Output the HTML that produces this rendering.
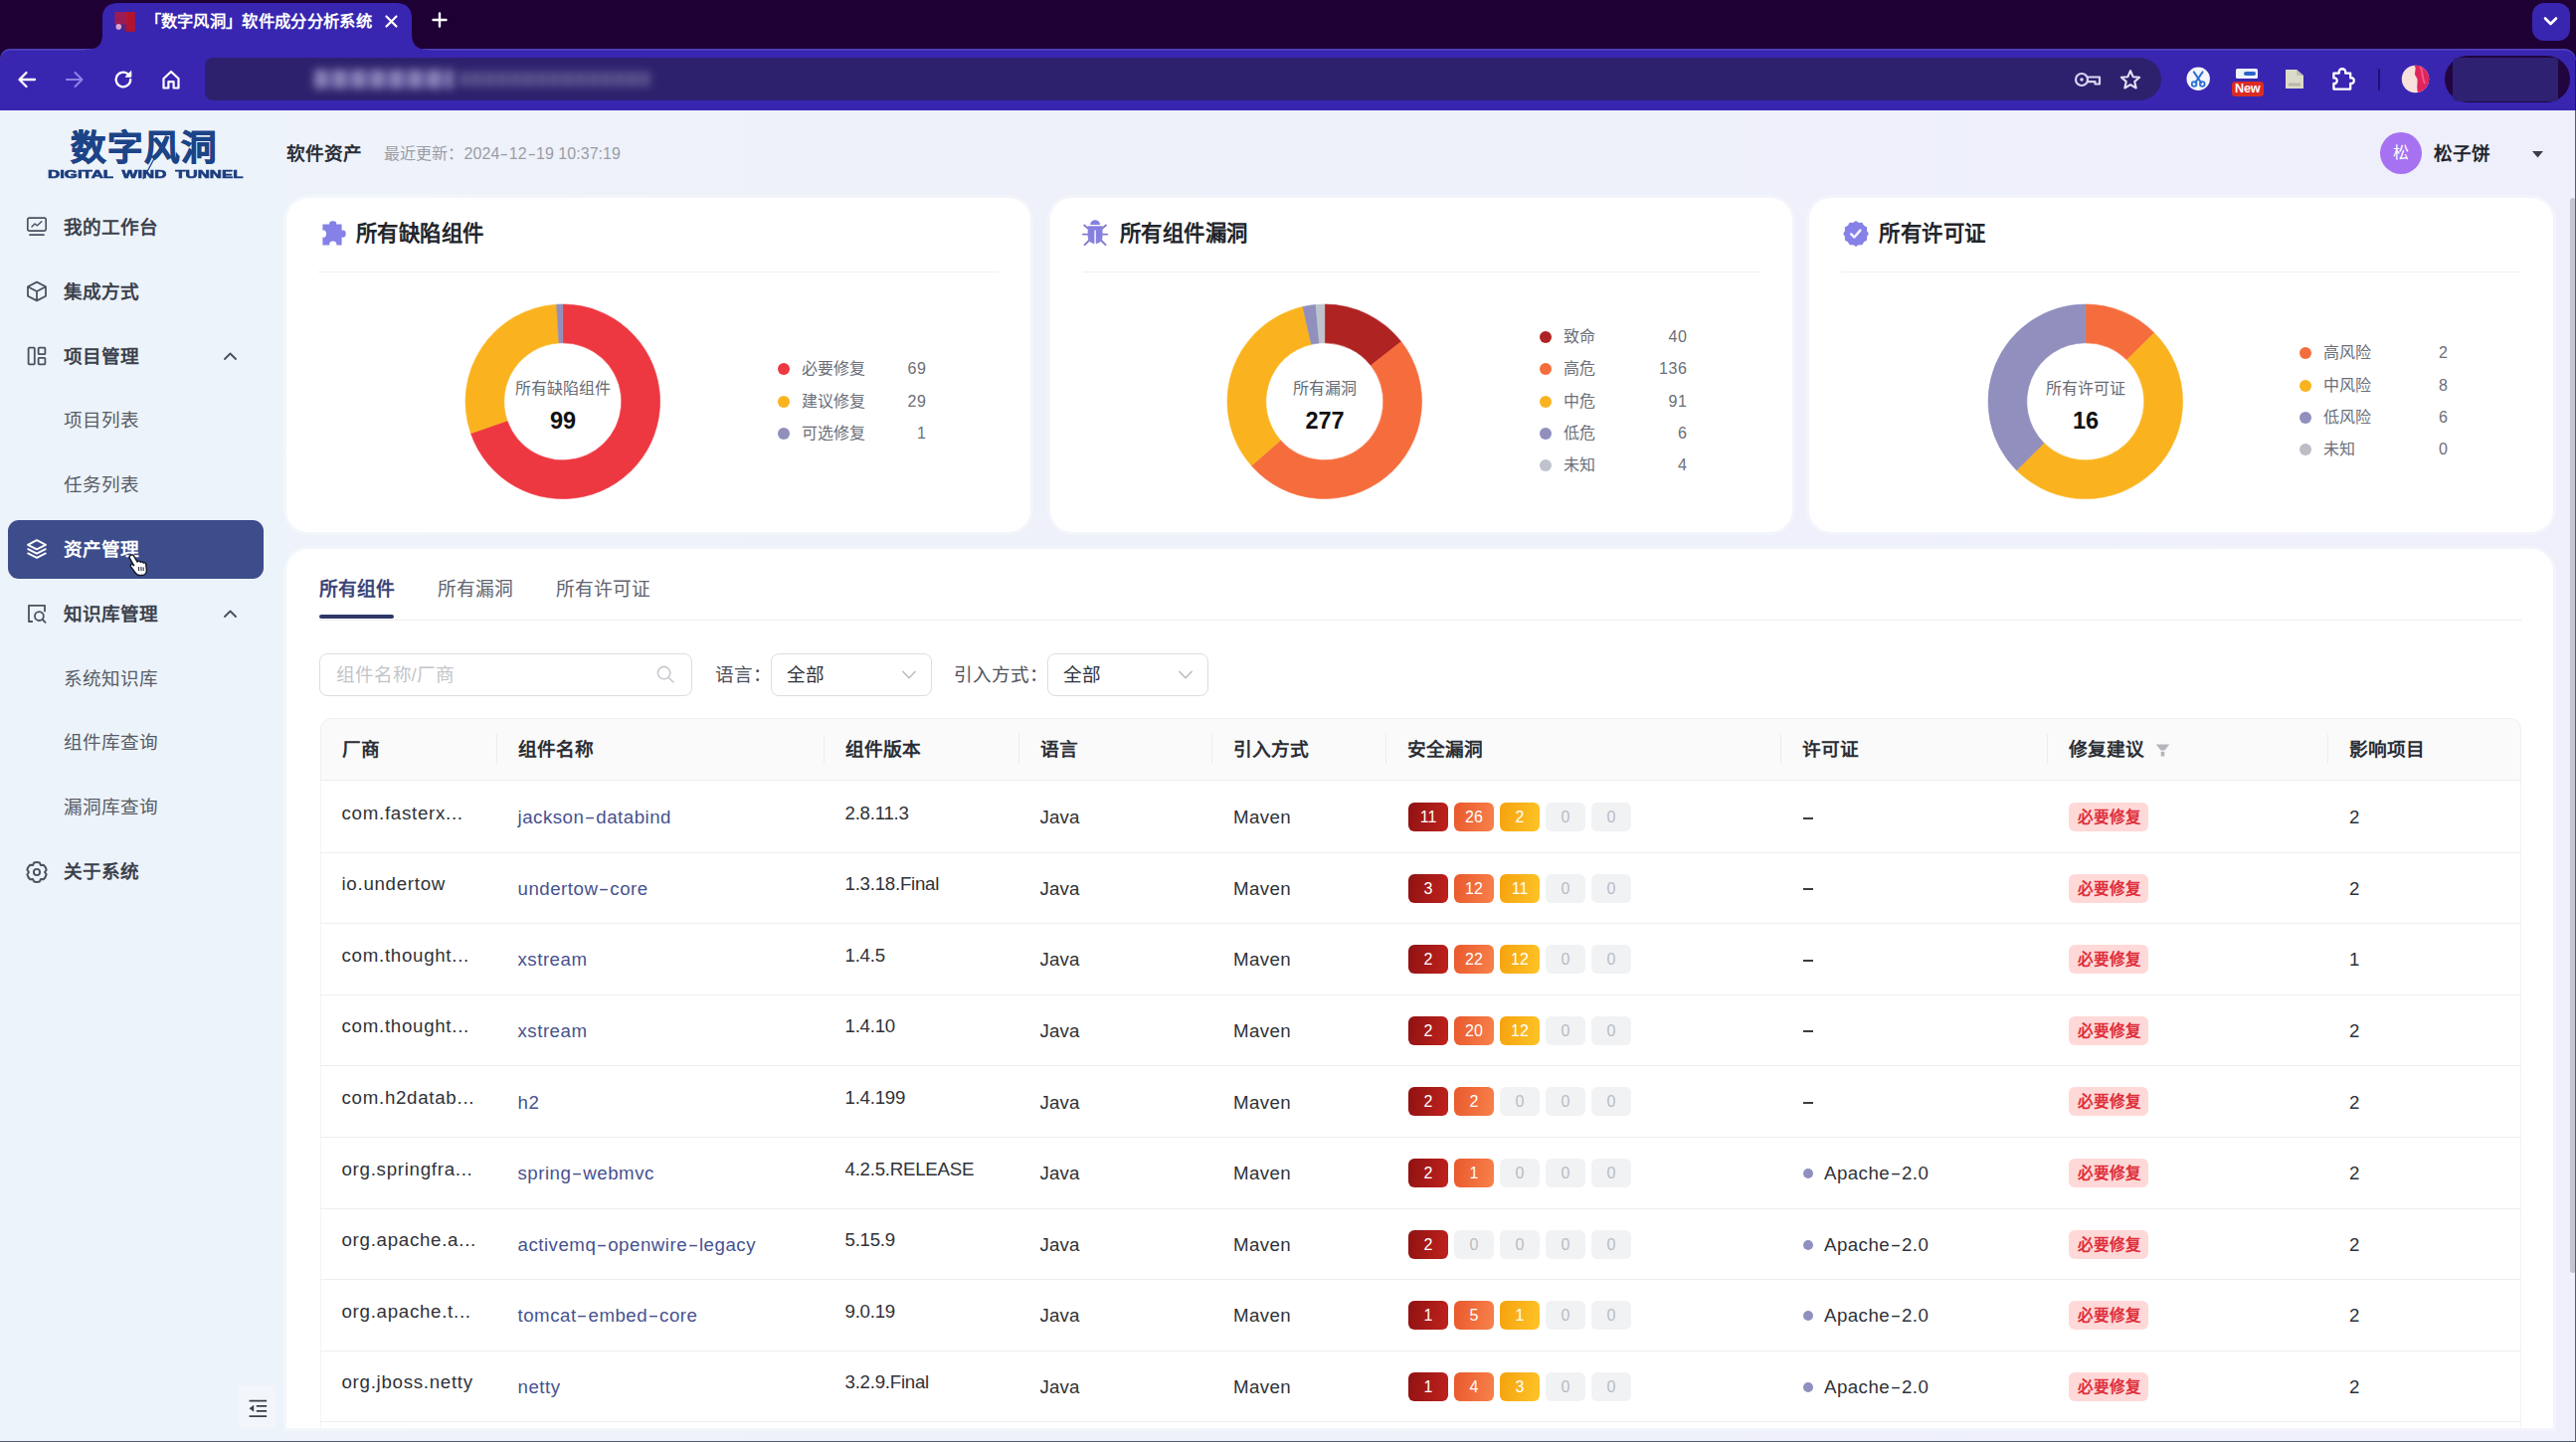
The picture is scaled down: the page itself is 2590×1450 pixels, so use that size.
<!DOCTYPE html>
<html lang="zh-CN">
<head>
<meta charset="utf-8">
<title>「数字风洞」软件成分分析系统</title>
<style>
*{box-sizing:border-box;}
html,body{margin:0;padding:0;}
body{width:2590px;height:1450px;overflow:hidden;position:relative;background:#eef1fa;
 font-family:"Liberation Sans",sans-serif;color:#333;-webkit-font-smoothing:antialiased;}
.a{position:absolute;}
svg{position:absolute;overflow:visible;}
.card{position:absolute;background:#fff;border-radius:22px;box-shadow:0 0 0 3px rgba(255,255,255,.32);}
.hr{position:absolute;height:1px;background:#efeff2;}
.bdg{position:absolute;width:40px;height:29px;border-radius:6px;text-align:center;line-height:29px;font-size:16px;color:#fff;}
.b1{background:linear-gradient(100deg,#8f1212,#c0221d);}
.b2{background:linear-gradient(100deg,#e9582c,#f8824c);}
.b3{background:linear-gradient(100deg,#f5a20d,#fec428);}
.b0{background:#f1f2f4;color:#b9bcc4;}
.tag{position:absolute;width:80px;height:29px;border-radius:6px;background:#ffd9d8;color:#de2f3b;font-weight:700;font-size:15.5px;line-height:29px;text-align:center;white-space:nowrap;overflow:hidden;}
.rowl{position:absolute;left:322px;width:2213px;height:1px;background:#eeeef0;}
</style>
</head>
<body>

<div class="a" style="left:0;top:111px;width:2590px;height:1339px;background:linear-gradient(90deg,#eef3fa 0%,#eef1fa 30%,#eeeffb 100%);"></div>
<div class="a" style="left:0;top:111px;width:285px;height:1339px;background:#edf3fa;"></div>
<div class="a" style="left:0;top:0;width:2590px;height:64px;background:#1f0035;"></div>
<div class="a" style="left:0;top:48.6px;width:2590px;height:62.4px;background:#3826b1;border-radius:10px 12px 0 0;box-shadow:inset 0 1.6px 0 rgba(140,120,215,.33);"></div>
<svg style="left:80px;top:0" width="370" height="56" viewBox="80 0 370 56">
<path d="M86 50 C 98 50 103 45 103 34 L103 18 C103 8 109 3 119 3 L398 3 C408 3 414 8 414 18 L414 34 C414 45 419 50 431 50 L431 56 L86 56 Z" fill="#3826b1"/>
</svg>
<svg style="left:114px;top:11px;filter:blur(.7px)" width="23" height="22" viewBox="0 0 23 22">
<rect x="1.4" y="1" width="13" height="12.6" fill="#9b1c54"/>
<rect x="13" y="1" width="8.8" height="19.8" fill="#b2142f"/>
<path d="M8 14 L13 14 L13 20.6 L10 20.6 Z" fill="#6a2370" opacity=".8"/>
<circle cx="5.3" cy="15.9" r="2.8" fill="#dba4cf"/>
</svg>
<div style="position:absolute;left:145.5px;top:10.0px;height:23px;line-height:23px;font-size:16.3px;color:#fff;font-weight:700;white-space:nowrap;width:228.20px;text-align:justify;text-align-last:justify;text-justify:inter-character;">「数字风洞」软件成分分析系统</div>
<svg style="left:387px;top:15px" width="13" height="13" viewBox="0 0 13 13"><path d="M1.5 1.5 L11.5 11.5 M11.5 1.5 L1.5 11.5" stroke="#fff" stroke-width="2.2" stroke-linecap="round"/></svg>
<svg style="left:434px;top:12px" width="16" height="16" viewBox="0 0 16 16"><path d="M8 1.5 V14.5 M1.5 8 H14.5" stroke="#fff" stroke-width="2.4" stroke-linecap="round"/></svg>
<div class="a" style="left:2546px;top:3px;width:38px;height:38px;border-radius:12px;background:#3826b1;"></div>
<svg style="left:2556px;top:15px" width="17" height="12" viewBox="0 0 17 12"><path d="M3 3.5 L8.5 9 L14 3.5" stroke="#fff" stroke-width="2.6" fill="none" stroke-linecap="round" stroke-linejoin="round"/></svg>
<svg style="left:15px;top:68px" width="24" height="24" viewBox="0 0 24 24"><path d="M20 12 H5 M11.5 5 L4.5 12 L11.5 19" stroke="#fff" stroke-width="2.3" fill="none" stroke-linecap="round" stroke-linejoin="round"/></svg>
<svg style="left:63px;top:68px" width="24" height="24" viewBox="0 0 24 24"><path d="M4 12 H19 M12.5 5 L19.5 12 L12.5 19" stroke="#8d82e6" stroke-width="2.1" fill="none" stroke-linecap="round" stroke-linejoin="round"/></svg>
<svg style="left:112px;top:68px" width="24" height="24" viewBox="0 0 24 24"><path d="M19.2 12 A7.3 7.3 0 1 1 16.6 6.4" stroke="#fff" stroke-width="2.3" fill="none" stroke-linecap="round"/><path d="M19.8 3.6 V9.2 H14.2 Z" fill="#fff" stroke="#fff" stroke-width="1" stroke-linejoin="round"/></svg>
<svg style="left:160px;top:68px" width="24" height="24" viewBox="0 0 24 24"><path d="M4.5 11 L12 4 L19.5 11 V20.5 H14.6 V14.2 H9.4 V20.5 H4.5 Z" stroke="#fff" stroke-width="2.2" fill="none" stroke-linejoin="round" stroke-linecap="round"/></svg>
<div class="a" style="left:206px;top:58px;width:1967px;height:43px;border-radius:8px 21.5px 21.5px 8px;background:#2d216d;"></div>
<div class="a" style="left:316px;top:70px;width:140px;height:19px;filter:blur(4px);background:repeating-linear-gradient(90deg,#a29dcc 0 13px,#5a5296 13px 19px);opacity:.8;"></div>
<div class="a" style="left:462px;top:72px;width:192px;height:15px;filter:blur(4px);background:repeating-linear-gradient(90deg,#6a6398 0 9px,#48407f 9px 13px);opacity:.8;"></div>
<svg style="left:2085px;top:70px" width="28" height="20" viewBox="0 0 28 20"><circle cx="8" cy="10" r="6" stroke="#d9d5f3" stroke-width="2.2" fill="none"/><circle cx="8" cy="10" r="1.8" fill="#d9d5f3"/><path d="M14 7.5 H26 V14.5 H21.5 V12.2 H14" stroke="#d9d5f3" stroke-width="2.2" fill="none" stroke-linejoin="round"/></svg>
<svg style="left:2130px;top:68px" width="24" height="24" viewBox="0 0 24 24"><path d="M12 3.2 L14.6 9.2 L21.1 9.8 L16.2 14.1 L17.7 20.5 L12 17.1 L6.3 20.5 L7.8 14.1 L2.9 9.8 L9.4 9.2 Z" stroke="#e4e1f7" stroke-width="2.1" fill="none" stroke-linejoin="round"/></svg>
<svg style="left:2197.5px;top:67.2px" width="24.4" height="24.4" viewBox="0 0 25 25"><circle cx="12.5" cy="12.5" r="12" fill="#f4f6fb"/><path d="M8 5.5 L15.5 16.5 M17 5.5 L9.5 16.5" stroke="#2d6fd6" stroke-width="2" stroke-linecap="round"/><circle cx="8.3" cy="18" r="2.4" stroke="#2d6fd6" stroke-width="1.8" fill="none"/><circle cx="16.7" cy="18" r="2.4" stroke="#2d6fd6" stroke-width="1.8" fill="none"/></svg>
<div class="a" style="left:2248px;top:68.5px;width:21.5px;height:10.5px;border-radius:1.5px;background:#eef3fb;"></div>
<div class="a" style="left:2256px;top:71.5px;width:12px;height:4px;border-radius:2px;background:#2b63c9;"></div>
<div class="a" style="left:2243.5px;top:82.3px;width:32.5px;height:14.8px;border-radius:3.5px;background:#dc2c22;color:#fff;font-weight:700;font-size:12.6px;line-height:14.8px;text-align:center;letter-spacing:-.2px;">New</div>
<svg style="left:2297px;top:69px" width="20" height="21" viewBox="0 0 20 21"><path d="M1 1 H12 L19 7 V20 H1 Z" fill="#dcdac8"/><path d="M12 1 V7 H19" fill="#c3c1b0"/><rect x="4" y="14.5" width="12" height="3" fill="#b9b7a8"/></svg>
<svg style="left:2342px;top:65.8px" width="27" height="27" viewBox="0 0 27 27"><path d="M4.4 7.6 H9.8 C8.6 1.8 17.4 1.8 16.2 7.6 H21.2 V12.4 C26 11.2 26 19 21.2 17.8 V23.6 H4.4 V17.9 C8.8 19 8.8 11.4 4.4 12.5 Z" stroke="#fff" stroke-width="2.3" fill="none" stroke-linejoin="round"/></svg>
<div class="a" style="left:2391px;top:69px;width:2px;height:22px;background:#1d1273;border-radius:1px;"></div>
<svg style="left:2414.3px;top:64.6px" width="29" height="29" viewBox="0 0 30 30"><defs><clipPath id="av"><circle cx="15" cy="15" r="14.2"/></clipPath></defs><g clip-path="url(#av)"><rect width="30" height="30" fill="#f8e0dc"/><path d="M13 0 C18 4 12 9 16 13 C19 17 15 22 18 30 H30 V0 Z" fill="#e0245c"/><path d="M20 2 C24 8 21 14 25 20" stroke="#f05a86" stroke-width="2" fill="none"/></g></svg>
<div class="a" style="left:2458px;top:56px;width:126px;height:47px;border-radius:23.5px;background:#21053f;"></div>
<div class="a" style="left:2466px;top:57.5px;width:106px;height:44px;border-radius:5px 4px 4px 5px;background:#2e2172;"></div>
<div class="a" style="left:71px;top:125.7px;height:46px;line-height:46px;font-size:35.5px;font-weight:900;color:#1c4487;white-space:nowrap;letter-spacing:1.1px;-webkit-text-stroke:.9px #1c4487;width:146.40px;text-align:justify;text-align-last:justify;text-justify:inter-character;">数字风洞</div>
<div class="a" style="left:48px;top:168px;height:14px;line-height:14px;font-size:10.8px;font-weight:700;color:#1b3c7e;white-space:nowrap;transform-origin:0 50%;transform:scaleX(1.56);word-spacing:2.6px;-webkit-text-stroke:.6px #1b3c7e;">DIGITAL WIND TUNNEL</div>
<svg style="left:140px;top:138px" width="30" height="44" viewBox="0 0 30 44"><path d="M26 1 L4 42" stroke="#1c4487" stroke-width="1.3"/></svg>
<div class="a" style="left:8px;top:523px;width:257px;height:59px;border-radius:11px;background:#3d4d8c;"></div>
<svg style="left:26px;top:217.0px" width="22" height="22" viewBox="0 0 22 22"><rect x="1.8" y="2.2" width="18.4" height="13" rx="1.6" stroke="#4a5160" stroke-width="1.7" fill="none"/><path d="M6 11 L9 8 L11.5 9.8 L15.8 5.8" stroke="#4a5160" stroke-width="1.5" fill="none" stroke-linejoin="round" stroke-linecap="round"/><path d="M4 19.2 H18" stroke="#4a5160" stroke-width="1.7" stroke-linecap="round"/></svg>
<div style="position:absolute;left:64px;top:215.9px;height:26px;line-height:26px;font-size:18.6px;color:#3b414c;font-weight:700;white-space:nowrap;width:93.00px;text-align:justify;text-align-last:justify;text-justify:inter-character;">我的工作台</div>
<svg style="left:26px;top:281.8px" width="22" height="22" viewBox="0 0 22 22"><path d="M11 1.6 L20 6.3 V15.7 L11 20.4 L2 15.7 V6.3 Z M2.4 6.5 L11 11 L19.6 6.5 M11 11 V20" stroke="#4a5160" stroke-width="1.8" fill="none" stroke-linejoin="round"/></svg>
<div style="position:absolute;left:64px;top:280.7px;height:26px;line-height:26px;font-size:18.6px;color:#3b414c;font-weight:700;white-space:nowrap;width:74.40px;text-align:justify;text-align-last:justify;text-justify:inter-character;">集成方式</div>
<svg style="left:26px;top:346.6px" width="22" height="22" viewBox="0 0 22 22"><rect x="2.6" y="2.6" width="6.2" height="16.8" rx=".8" stroke="#4a5160" stroke-width="1.8" fill="none"/><rect x="12.6" y="2.6" width="6.8" height="6.6" rx=".8" stroke="#4a5160" stroke-width="1.8" fill="none"/><rect x="12.6" y="12.8" width="6.8" height="6.6" rx=".8" stroke="#4a5160" stroke-width="1.8" fill="none"/></svg>
<div style="position:absolute;left:64px;top:345.5px;height:26px;line-height:26px;font-size:18.6px;color:#3b414c;font-weight:700;white-space:nowrap;width:74.40px;text-align:justify;text-align-last:justify;text-justify:inter-character;">项目管理</div>
<svg style="left:224px;top:352.6px" width="15" height="10" viewBox="0 0 15 10"><path d="M2 8 L7.5 2.5 L13 8" stroke="#4a5160" stroke-width="1.9" fill="none" stroke-linecap="round" stroke-linejoin="round"/></svg>
<div style="position:absolute;left:64px;top:410.3px;height:26px;line-height:26px;font-size:18.6px;color:#575c66;font-weight:400;white-space:nowrap;width:74.40px;text-align:justify;text-align-last:justify;text-justify:inter-character;">项目列表</div>
<div style="position:absolute;left:64px;top:475.1px;height:26px;line-height:26px;font-size:18.6px;color:#575c66;font-weight:400;white-space:nowrap;width:74.40px;text-align:justify;text-align-last:justify;text-justify:inter-character;">任务列表</div>
<svg style="left:26px;top:541.0px" width="22" height="22" viewBox="0 0 22 22"><path d="M11 2.2 L20 6.8 L11 11.4 L2 6.8 Z" stroke="#fff" stroke-width="1.9" fill="none" stroke-linejoin="round"/><path d="M2.2 11.2 L11 15.6 L19.8 11.2 M2.2 15.4 L11 19.8 L19.8 15.4" stroke="#fff" stroke-width="1.9" fill="none" stroke-linejoin="round" stroke-linecap="round"/></svg>
<div style="position:absolute;left:64px;top:539.9px;height:26px;line-height:26px;font-size:18.6px;color:#fff;font-weight:700;white-space:nowrap;width:74.40px;text-align:justify;text-align-last:justify;text-justify:inter-character;">资产管理</div>
<svg style="left:26px;top:605.8px" width="22" height="22" viewBox="0 0 22 22"><path d="M6.2 19 H3 V2.8 H19 V8.4" stroke="#4a5160" stroke-width="1.8" fill="none" stroke-linejoin="round" stroke-linecap="round"/><circle cx="13.4" cy="13.6" r="4.4" stroke="#4a5160" stroke-width="1.8" fill="none"/><path d="M16.8 17 L19.6 19.8" stroke="#4a5160" stroke-width="1.8" stroke-linecap="round"/></svg>
<div style="position:absolute;left:64px;top:604.7px;height:26px;line-height:26px;font-size:18.6px;color:#3b414c;font-weight:700;white-space:nowrap;width:93.00px;text-align:justify;text-align-last:justify;text-justify:inter-character;">知识库管理</div>
<svg style="left:224px;top:611.8px" width="15" height="10" viewBox="0 0 15 10"><path d="M2 8 L7.5 2.5 L13 8" stroke="#4a5160" stroke-width="1.9" fill="none" stroke-linecap="round" stroke-linejoin="round"/></svg>
<div style="position:absolute;left:64px;top:669.5px;height:26px;line-height:26px;font-size:18.6px;color:#575c66;font-weight:400;white-space:nowrap;width:93.00px;text-align:justify;text-align-last:justify;text-justify:inter-character;">系统知识库</div>
<div style="position:absolute;left:64px;top:734.3px;height:26px;line-height:26px;font-size:18.6px;color:#575c66;font-weight:400;white-space:nowrap;width:93.00px;text-align:justify;text-align-last:justify;text-justify:inter-character;">组件库查询</div>
<div style="position:absolute;left:64px;top:799.1px;height:26px;line-height:26px;font-size:18.6px;color:#575c66;font-weight:400;white-space:nowrap;width:93.00px;text-align:justify;text-align-last:justify;text-justify:inter-character;">漏洞库查询</div>
<svg style="left:26px;top:865.8px" width="22" height="22" viewBox="0 0 22 22"><path d="M8.11 1.53 A9.9 9.9 0 0 1 13.89 1.53 L15.00 4.07 L17.75 3.76 A9.9 9.9 0 0 1 20.65 8.77 L19.00 11.00 L20.65 13.23 A9.9 9.9 0 0 1 17.75 18.24 L15.00 17.93 L13.89 20.47 A9.9 9.9 0 0 1 8.11 20.47 L7.00 17.93 L4.25 18.24 A9.9 9.9 0 0 1 1.35 13.23 L3.00 11.00 L1.35 8.77 A9.9 9.9 0 0 1 4.25 3.76 L7.00 4.07 Z" stroke="#4a5160" stroke-width="2" fill="none" stroke-linejoin="round"/><circle cx="11" cy="11" r="3.1" stroke="#4a5160" stroke-width="1.9" fill="none"/></svg>
<div style="position:absolute;left:64px;top:863.9px;height:26px;line-height:26px;font-size:18.6px;color:#3b414c;font-weight:700;white-space:nowrap;width:74.40px;text-align:justify;text-align-last:justify;text-justify:inter-character;">关于系统</div>
<svg style="left:128px;top:556px" width="22" height="24" viewBox="0 0 22 24"><path d="M3.2 2.4 C4.6 1.4 6 2 6.8 3.4 L10 9 C10.6 7.8 12.6 7.8 13.2 9.2 C14 8.2 15.8 8.6 16.2 10 C17.2 9.4 18.6 10 18.8 11.4 L19.4 17 C19.6 20 17.6 22.4 14.6 22.6 L12.6 22.6 C10.6 22.6 9.2 21.8 8.2 20.2 L3.4 13.6 C2.6 12.2 4 10.8 5.4 11.6 L6.6 12.6 L2.4 5.4 C1.8 4.2 2.2 3 3.2 2.4 Z" fill="#fff" stroke="#151a2e" stroke-width="1.5" stroke-linejoin="round"/><path d="M11.6 14 V18 M14 14 V18 M16.2 14.4 V18" stroke="#151a2e" stroke-width="1"/></svg>
<div class="a" style="left:240px;top:1393px;width:37px;height:43px;border-radius:4px;background:#f2f6fb;"></div>
<svg style="left:248.5px;top:1406.4px" width="20.7" height="20.7" viewBox="0 0 20 20"><path d="M1.5 2.5 H18.5 M8.5 7.6 H18.5 M8.5 12.4 H18.5 M1.5 17.5 H18.5" stroke="#3a3f4a" stroke-width="1.8"/><path d="M6 6.6 V13.4 L1.6 10 Z" fill="#3a3f4a"/></svg>
<div style="position:absolute;left:288px;top:142.3px;height:26px;line-height:26px;font-size:18.6px;color:#2b2f36;font-weight:700;white-space:nowrap;width:74.40px;text-align:justify;text-align-last:justify;text-justify:inter-character;">软件资产</div>
<div style="position:absolute;left:386px;top:144.0px;height:22px;line-height:22px;font-size:16px;color:#9a9da5;font-weight:400;white-space:nowrap;"><span style="display:inline-block;width:80px;text-align:justify;text-align-last:justify;text-justify:inter-character;vertical-align:top;margin-right:.6px;">最近更新：</span><span style="letter-spacing:.04px;">2024<span style="display:inline-block;transform:scaleX(1.6);margin:0 2px;">-</span>12<span style="display:inline-block;transform:scaleX(1.6);margin:0 2px;">-</span>19 10:37:19</span></div>
<div class="a" style="left:2393px;top:133px;width:42px;height:42px;border-radius:21px;background:#a772f1;color:#fff;font-size:16px;line-height:42px;text-align:center;">松</div>
<div style="position:absolute;left:2447px;top:141.5px;height:26px;line-height:26px;font-size:18.6px;color:#22252b;font-weight:700;white-space:nowrap;width:55.80px;text-align:justify;text-align-last:justify;text-justify:inter-character;">松子饼</div>
<svg style="left:2545px;top:151px" width="13" height="8" viewBox="0 0 13 8"><path d="M1 1 H12 L6.5 7.4 Z" fill="#3a3d45"/></svg>
<div class="card" style="left:287.5px;top:198.5px;width:748px;height:336px;"></div>
<svg style="left:323px;top:221px" width="27" height="27" viewBox="0 0 27 27"><path d="M1.4 4.6 H8.4 C6.4 0.2 17 0.2 15 4.6 H20.6 V10.8 C26.2 8.6 26.2 19.6 20.6 17.4 V25.4 H15.2 C16.8 20.2 6.8 20.2 8.4 25.4 H1.4 V17.6 C6.4 19.4 6.4 9 1.4 10.8 Z" fill="#8681e6"/></svg>
<div style="position:absolute;left:358.0px;top:220.0px;height:30px;line-height:30px;font-size:21.4px;color:#22252b;font-weight:700;white-space:nowrap;width:128.40px;text-align:justify;text-align-last:justify;text-justify:inter-character;">所有缺陷组件</div>
<div class="hr" style="left:319.5px;top:272.5px;width:684px;"></div>
<svg style="left:466.2px;top:304.09999999999997px" width="199.6" height="199.6" viewBox="-99.8 -99.8 199.6 199.6"><path d="M0.00 -97.80 A97.8 97.8 0 1 1 -92.42 31.99 L-55.76 19.30 A59 59 0 1 0 0.00 -59.00 Z" fill="#ee3841" stroke="#ee3841" stroke-width=".6"/><path d="M-92.42 31.99 A97.8 97.8 0 0 1 -6.20 -97.60 L-3.74 -58.88 A59 59 0 0 0 -55.76 19.30 Z" fill="#fab31f" stroke="#fab31f" stroke-width=".6"/><path d="M-6.20 -97.60 A97.8 97.8 0 0 1 -0.00 -97.80 L-0.00 -59.00 A59 59 0 0 0 -3.74 -58.88 Z" fill="#908fbd" stroke="#908fbd" stroke-width=".6"/></svg>
<div class="a" style="left:486px;top:379.5px;width:160px;height:22px;line-height:22px;text-align:center;font-size:16px;color:#676b75;white-space:nowrap;"><span style="display:inline-block;width:96.00px;text-align:justify;text-align-last:justify;text-justify:inter-character;vertical-align:top;">所有缺陷组件</span></div>
<div class="a" style="left:486px;top:407.5px;width:160px;height:30px;line-height:30px;text-align:center;font-size:23.5px;font-weight:700;color:#111;white-space:nowrap;">99</div>
<div class="a" style="left:782px;top:365.3px;width:12px;height:12px;border-radius:6px;background:#ee3841;"></div>
<div style="position:absolute;left:805.5px;top:360.3px;height:22px;line-height:22px;font-size:16px;color:#6b6f78;font-weight:400;white-space:nowrap;width:64.00px;text-align:justify;text-align-last:justify;text-justify:inter-character;">必要修复</div>
<div style="position:absolute;right:1658.4px;top:360.3px;height:22px;line-height:22px;font-size:16px;color:#6b6f78;font-weight:400;white-space:nowrap;letter-spacing:.6px;">69</div>
<div class="a" style="left:782px;top:397.6px;width:12px;height:12px;border-radius:6px;background:#fab31f;"></div>
<div style="position:absolute;left:805.5px;top:392.6px;height:22px;line-height:22px;font-size:16px;color:#6b6f78;font-weight:400;white-space:nowrap;width:64.00px;text-align:justify;text-align-last:justify;text-justify:inter-character;">建议修复</div>
<div style="position:absolute;right:1658.4px;top:392.6px;height:22px;line-height:22px;font-size:16px;color:#6b6f78;font-weight:400;white-space:nowrap;letter-spacing:.6px;">29</div>
<div class="a" style="left:782px;top:429.8px;width:12px;height:12px;border-radius:6px;background:#908fbd;"></div>
<div style="position:absolute;left:805.5px;top:424.8px;height:22px;line-height:22px;font-size:16px;color:#6b6f78;font-weight:400;white-space:nowrap;width:64.00px;text-align:justify;text-align-last:justify;text-justify:inter-character;">可选修复</div>
<div style="position:absolute;right:1658.4px;top:424.8px;height:22px;line-height:22px;font-size:16px;color:#6b6f78;font-weight:400;white-space:nowrap;letter-spacing:.6px;">1</div>
<div class="card" style="left:1055.5px;top:198.5px;width:746px;height:336px;"></div>
<svg style="left:1088px;top:221px" width="27" height="27" viewBox="0 0 27 27"><g stroke="#827cc4" stroke-width="1.9" stroke-linecap="round" fill="none"><path d="M2.2 5.6 L7.4 9.8 M24 5.6 L18.8 9.8 M.9 14.6 H6 M20.2 14.6 H25.3 M6.8 21 L2.6 25.2 M19.4 21 L23.6 25.2"/></g><path d="M8.2 4.9 C8.2 -1.4 18 -1.4 18 4.9 Z" fill="#8681e0"/><path d="M5.7 6.2 H20.5 V17 C20.5 26.4 5.7 26.4 5.7 17 Z" fill="#8681e0"/><path d="M13.1 10.4 V24" stroke="#e9e6ff" stroke-width="1.7"/></svg>
<div style="position:absolute;left:1126.0px;top:220.0px;height:30px;line-height:30px;font-size:21.4px;color:#22252b;font-weight:700;white-space:nowrap;width:128.40px;text-align:justify;text-align-last:justify;text-justify:inter-character;">所有组件漏洞</div>
<div class="hr" style="left:1087.5px;top:272.5px;width:682px;"></div>
<svg style="left:1232.2px;top:304.09999999999997px" width="199.6" height="199.6" viewBox="-99.8 -99.8 199.6 199.6"><path d="M0.00 -97.80 A97.8 97.8 0 0 1 77.05 -60.23 L46.48 -36.34 A59 59 0 0 0 0.00 -59.00 Z" fill="#b02323" stroke="#b02323" stroke-width=".6"/><path d="M77.05 -60.23 A97.8 97.8 0 0 1 -73.51 64.50 L-44.35 38.91 A59 59 0 0 0 46.48 -36.34 Z" fill="#f66d3d" stroke="#f66d3d" stroke-width=".6"/><path d="M-73.51 64.50 A97.8 97.8 0 0 1 -21.99 -95.29 L-13.27 -57.49 A59 59 0 0 0 -44.35 38.91 Z" fill="#fab31f" stroke="#fab31f" stroke-width=".6"/><path d="M-21.99 -95.29 A97.8 97.8 0 0 1 -8.86 -97.40 L-5.35 -58.76 A59 59 0 0 0 -13.27 -57.49 Z" fill="#908fbd" stroke="#908fbd" stroke-width=".6"/><path d="M-8.86 -97.40 A97.8 97.8 0 0 1 -0.00 -97.80 L-0.00 -59.00 A59 59 0 0 0 -5.35 -58.76 Z" fill="#bfc3cd" stroke="#bfc3cd" stroke-width=".6"/></svg>
<div class="a" style="left:1252px;top:379.5px;width:160px;height:22px;line-height:22px;text-align:center;font-size:16px;color:#676b75;white-space:nowrap;"><span style="display:inline-block;width:64.00px;text-align:justify;text-align-last:justify;text-justify:inter-character;vertical-align:top;">所有漏洞</span></div>
<div class="a" style="left:1252px;top:407.5px;width:160px;height:30px;line-height:30px;text-align:center;font-size:23.5px;font-weight:700;color:#111;white-space:nowrap;">277</div>
<div class="a" style="left:1548px;top:333.1px;width:12px;height:12px;border-radius:6px;background:#b02323;"></div>
<div style="position:absolute;left:1571.5px;top:328.1px;height:22px;line-height:22px;font-size:16px;color:#6b6f78;font-weight:400;white-space:nowrap;width:32.00px;text-align:justify;text-align-last:justify;text-justify:inter-character;">致命</div>
<div style="position:absolute;right:893.4000000000001px;top:328.1px;height:22px;line-height:22px;font-size:16px;color:#6b6f78;font-weight:400;white-space:nowrap;letter-spacing:.6px;">40</div>
<div class="a" style="left:1548px;top:365.3px;width:12px;height:12px;border-radius:6px;background:#f66d3d;"></div>
<div style="position:absolute;left:1571.5px;top:360.3px;height:22px;line-height:22px;font-size:16px;color:#6b6f78;font-weight:400;white-space:nowrap;width:32.00px;text-align:justify;text-align-last:justify;text-justify:inter-character;">高危</div>
<div style="position:absolute;right:893.4000000000001px;top:360.3px;height:22px;line-height:22px;font-size:16px;color:#6b6f78;font-weight:400;white-space:nowrap;letter-spacing:.6px;">136</div>
<div class="a" style="left:1548px;top:397.6px;width:12px;height:12px;border-radius:6px;background:#fab31f;"></div>
<div style="position:absolute;left:1571.5px;top:392.6px;height:22px;line-height:22px;font-size:16px;color:#6b6f78;font-weight:400;white-space:nowrap;width:32.00px;text-align:justify;text-align-last:justify;text-justify:inter-character;">中危</div>
<div style="position:absolute;right:893.4000000000001px;top:392.6px;height:22px;line-height:22px;font-size:16px;color:#6b6f78;font-weight:400;white-space:nowrap;letter-spacing:.6px;">91</div>
<div class="a" style="left:1548px;top:429.8px;width:12px;height:12px;border-radius:6px;background:#908fbd;"></div>
<div style="position:absolute;left:1571.5px;top:424.8px;height:22px;line-height:22px;font-size:16px;color:#6b6f78;font-weight:400;white-space:nowrap;width:32.00px;text-align:justify;text-align-last:justify;text-justify:inter-character;">低危</div>
<div style="position:absolute;right:893.4000000000001px;top:424.8px;height:22px;line-height:22px;font-size:16px;color:#6b6f78;font-weight:400;white-space:nowrap;letter-spacing:.6px;">6</div>
<div class="a" style="left:1548px;top:462.1px;width:12px;height:12px;border-radius:6px;background:#bfc3cd;"></div>
<div style="position:absolute;left:1571.5px;top:457.1px;height:22px;line-height:22px;font-size:16px;color:#6b6f78;font-weight:400;white-space:nowrap;width:32.00px;text-align:justify;text-align-last:justify;text-justify:inter-character;">未知</div>
<div style="position:absolute;right:893.4000000000001px;top:457.1px;height:22px;line-height:22px;font-size:16px;color:#6b6f78;font-weight:400;white-space:nowrap;letter-spacing:.6px;">4</div>
<div class="card" style="left:1818.8px;top:198.5px;width:748.2px;height:336px;"></div>
<svg style="left:1852.7px;top:221.8px" width="26" height="26" viewBox="0 0 26 26"><path d="M13.00 0.80 L15.80 2.57 L19.10 2.43 L20.64 5.36 L23.57 6.90 L23.43 10.20 L25.20 13.00 L23.43 15.80 L23.57 19.10 L20.64 20.64 L19.10 23.57 L15.80 23.43 L13.00 25.20 L10.20 23.43 L6.90 23.57 L5.36 20.64 L2.43 19.10 L2.57 15.80 L0.80 13.00 L2.57 10.20 L2.43 6.90 L5.36 5.36 L6.90 2.43 L10.20 2.57 Z" fill="#8681e6" stroke="#8681e6" stroke-width="1.2" stroke-linejoin="round"/><path d="M8.2 13.4 L11.4 16.5 L17.4 9.6" stroke="#f3f1ff" stroke-width="2.5" fill="none" stroke-linecap="round" stroke-linejoin="round"/></svg>
<div style="position:absolute;left:1889.3px;top:220.0px;height:30px;line-height:30px;font-size:21.4px;color:#22252b;font-weight:700;white-space:nowrap;width:107.00px;text-align:justify;text-align-last:justify;text-justify:inter-character;">所有许可证</div>
<div class="hr" style="left:1850.8px;top:272.5px;width:684.2px;"></div>
<svg style="left:1997.2px;top:304.09999999999997px" width="199.6" height="199.6" viewBox="-99.8 -99.8 199.6 199.6"><path d="M0.00 -97.80 A97.8 97.8 0 0 1 69.16 -69.16 L41.72 -41.72 A59 59 0 0 0 0.00 -59.00 Z" fill="#f66d3d" stroke="#f66d3d" stroke-width=".6"/><path d="M69.16 -69.16 A97.8 97.8 0 0 1 -69.16 69.16 L-41.72 41.72 A59 59 0 0 0 41.72 -41.72 Z" fill="#fab31f" stroke="#fab31f" stroke-width=".6"/><path d="M-69.16 69.16 A97.8 97.8 0 0 1 -0.00 -97.80 L-0.00 -59.00 A59 59 0 0 0 -41.72 41.72 Z" fill="#908fbd" stroke="#908fbd" stroke-width=".6"/></svg>
<div class="a" style="left:2017px;top:379.5px;width:160px;height:22px;line-height:22px;text-align:center;font-size:16px;color:#676b75;white-space:nowrap;"><span style="display:inline-block;width:80.00px;text-align:justify;text-align-last:justify;text-justify:inter-character;vertical-align:top;">所有许可证</span></div>
<div class="a" style="left:2017px;top:407.5px;width:160px;height:30px;line-height:30px;text-align:center;font-size:23.5px;font-weight:700;color:#111;white-space:nowrap;">16</div>
<div class="a" style="left:2312px;top:349.2px;width:12px;height:12px;border-radius:6px;background:#f66d3d;"></div>
<div style="position:absolute;left:2335.5px;top:344.2px;height:22px;line-height:22px;font-size:16px;color:#6b6f78;font-weight:400;white-space:nowrap;width:48.00px;text-align:justify;text-align-last:justify;text-justify:inter-character;">高风险</div>
<div style="position:absolute;right:128.4000000000001px;top:344.2px;height:22px;line-height:22px;font-size:16px;color:#6b6f78;font-weight:400;white-space:nowrap;letter-spacing:.6px;">2</div>
<div class="a" style="left:2312px;top:381.5px;width:12px;height:12px;border-radius:6px;background:#fab31f;"></div>
<div style="position:absolute;left:2335.5px;top:376.5px;height:22px;line-height:22px;font-size:16px;color:#6b6f78;font-weight:400;white-space:nowrap;width:48.00px;text-align:justify;text-align-last:justify;text-justify:inter-character;">中风险</div>
<div style="position:absolute;right:128.4000000000001px;top:376.5px;height:22px;line-height:22px;font-size:16px;color:#6b6f78;font-weight:400;white-space:nowrap;letter-spacing:.6px;">8</div>
<div class="a" style="left:2312px;top:413.7px;width:12px;height:12px;border-radius:6px;background:#908fbd;"></div>
<div style="position:absolute;left:2335.5px;top:408.7px;height:22px;line-height:22px;font-size:16px;color:#6b6f78;font-weight:400;white-space:nowrap;width:48.00px;text-align:justify;text-align-last:justify;text-justify:inter-character;">低风险</div>
<div style="position:absolute;right:128.4000000000001px;top:408.7px;height:22px;line-height:22px;font-size:16px;color:#6b6f78;font-weight:400;white-space:nowrap;letter-spacing:.6px;">6</div>
<div class="a" style="left:2312px;top:446.0px;width:12px;height:12px;border-radius:6px;background:#bdbdc6;"></div>
<div style="position:absolute;left:2335.5px;top:441.0px;height:22px;line-height:22px;font-size:16px;color:#6b6f78;font-weight:400;white-space:nowrap;width:32.00px;text-align:justify;text-align-last:justify;text-justify:inter-character;">未知</div>
<div style="position:absolute;right:128.4000000000001px;top:441.0px;height:22px;line-height:22px;font-size:16px;color:#6b6f78;font-weight:400;white-space:nowrap;letter-spacing:.6px;">0</div>
<div class="card" style="left:287.5px;top:552px;width:2279.5px;height:884px;border-radius:22px 22px 0 0;"></div>
<div style="position:absolute;left:321px;top:579.5px;height:26px;line-height:26px;font-size:18.8px;color:#3b4478;font-weight:700;white-space:nowrap;width:75.20px;text-align:justify;text-align-last:justify;text-justify:inter-character;">所有组件</div>
<div style="position:absolute;left:439.5px;top:579.5px;height:26px;line-height:26px;font-size:18.8px;color:#60646e;font-weight:400;white-space:nowrap;width:75.20px;text-align:justify;text-align-last:justify;text-justify:inter-character;">所有漏洞</div>
<div style="position:absolute;left:558.5px;top:579.5px;height:26px;line-height:26px;font-size:18.8px;color:#60646e;font-weight:400;white-space:nowrap;width:94.00px;text-align:justify;text-align-last:justify;text-justify:inter-character;">所有许可证</div>
<div class="a" style="left:321px;top:623px;width:2214px;height:1px;background:#ececf0;"></div>
<div class="a" style="left:321px;top:618px;width:75px;height:4px;border-radius:2px;background:#2f3768;"></div>
<div class="a" style="left:321px;top:657px;width:375px;height:43px;border:1.4px solid #dcdde2;border-radius:8px;background:#fff;"></div>
<div style="position:absolute;left:337.5px;top:665.5px;height:26px;line-height:26px;font-size:18.6px;color:#c3c4ca;font-weight:400;white-space:nowrap;">组件名称/厂商</div>
<svg style="left:659px;top:668px" width="20" height="20" viewBox="0 0 20 20"><circle cx="8.6" cy="8.6" r="6.2" stroke="#c6c7cc" stroke-width="1.6" fill="none"/><path d="M13.2 13.2 L18 18" stroke="#c6c7cc" stroke-width="1.6" stroke-linecap="round"/></svg>
<div style="position:absolute;left:718.5px;top:665.5px;height:26px;line-height:26px;font-size:18.6px;color:#4d5059;font-weight:400;white-space:nowrap;width:55.80px;text-align:justify;text-align-last:justify;text-justify:inter-character;">语言：</div>
<div class="a" style="left:775px;top:657px;width:162px;height:43px;border:1.4px solid #dcdde2;border-radius:8px;background:#fff;"></div>
<div style="position:absolute;left:791px;top:665.5px;height:26px;line-height:26px;font-size:18.6px;color:#2e3138;font-weight:400;white-space:nowrap;width:37.20px;text-align:justify;text-align-last:justify;text-justify:inter-character;">全部</div>
<svg style="left:906px;top:672.5px" width="16" height="10.7" viewBox="0 0 18 12"><path d="M2 2.5 L9 9.8 L16 2.5" stroke="#b9bac0" stroke-width="1.6" fill="none" stroke-linecap="round" stroke-linejoin="round"/></svg>
<div style="position:absolute;left:958.5px;top:665.5px;height:26px;line-height:26px;font-size:18.6px;color:#4d5059;font-weight:400;white-space:nowrap;width:93.00px;text-align:justify;text-align-last:justify;text-justify:inter-character;">引入方式：</div>
<div class="a" style="left:1053px;top:657px;width:162px;height:43px;border:1.4px solid #dcdde2;border-radius:8px;background:#fff;"></div>
<div style="position:absolute;left:1069px;top:665.5px;height:26px;line-height:26px;font-size:18.6px;color:#2e3138;font-weight:400;white-space:nowrap;width:37.20px;text-align:justify;text-align-last:justify;text-justify:inter-character;">全部</div>
<svg style="left:1184px;top:672.5px" width="16" height="10.7" viewBox="0 0 18 12"><path d="M2 2.5 L9 9.8 L16 2.5" stroke="#b9bac0" stroke-width="1.6" fill="none" stroke-linecap="round" stroke-linejoin="round"/></svg>
<div class="a" style="left:322px;top:722px;width:2213px;height:714px;border:1px solid #f3f3f5;border-bottom:none;border-radius:12px 12px 0 0;background:#fff;"></div>
<div class="a" style="left:322px;top:722px;width:2213px;height:63.39999999999998px;border-radius:12px 12px 0 0;background:#fafafa;border:1px solid #f0f0f2;border-bottom:1px solid #ededf0;"></div>
<div style="position:absolute;left:343.5px;top:740.8px;height:26px;line-height:26px;font-size:18.7px;color:#2b2e35;font-weight:700;white-space:nowrap;width:37.40px;text-align:justify;text-align-last:justify;text-justify:inter-character;">厂商</div>
<div style="position:absolute;left:520.5px;top:740.8px;height:26px;line-height:26px;font-size:18.7px;color:#2b2e35;font-weight:700;white-space:nowrap;width:74.80px;text-align:justify;text-align-last:justify;text-justify:inter-character;">组件名称</div>
<div style="position:absolute;left:849.5px;top:740.8px;height:26px;line-height:26px;font-size:18.7px;color:#2b2e35;font-weight:700;white-space:nowrap;width:74.80px;text-align:justify;text-align-last:justify;text-justify:inter-character;">组件版本</div>
<div style="position:absolute;left:1045.5px;top:740.8px;height:26px;line-height:26px;font-size:18.7px;color:#2b2e35;font-weight:700;white-space:nowrap;width:37.40px;text-align:justify;text-align-last:justify;text-justify:inter-character;">语言</div>
<div style="position:absolute;left:1240.0px;top:740.8px;height:26px;line-height:26px;font-size:18.7px;color:#2b2e35;font-weight:700;white-space:nowrap;width:74.80px;text-align:justify;text-align-last:justify;text-justify:inter-character;">引入方式</div>
<div style="position:absolute;left:1414.5px;top:740.8px;height:26px;line-height:26px;font-size:18.7px;color:#2b2e35;font-weight:700;white-space:nowrap;width:74.80px;text-align:justify;text-align-last:justify;text-justify:inter-character;">安全漏洞</div>
<div style="position:absolute;left:1811.5px;top:740.8px;height:26px;line-height:26px;font-size:18.7px;color:#2b2e35;font-weight:700;white-space:nowrap;width:56.10px;text-align:justify;text-align-last:justify;text-justify:inter-character;">许可证</div>
<div style="position:absolute;left:2079.5px;top:740.8px;height:26px;line-height:26px;font-size:18.7px;color:#2b2e35;font-weight:700;white-space:nowrap;width:74.80px;text-align:justify;text-align-last:justify;text-justify:inter-character;">修复建议</div>
<div style="position:absolute;left:2361.5px;top:740.8px;height:26px;line-height:26px;font-size:18.7px;color:#2b2e35;font-weight:700;white-space:nowrap;width:74.80px;text-align:justify;text-align-last:justify;text-justify:inter-character;">影响项目</div>
<div class="a" style="left:498.5px;top:738px;width:1px;height:30px;background:#ececee;"></div>
<div class="a" style="left:827.5px;top:738px;width:1px;height:30px;background:#ececee;"></div>
<div class="a" style="left:1023.5px;top:738px;width:1px;height:30px;background:#ececee;"></div>
<div class="a" style="left:1218.0px;top:738px;width:1px;height:30px;background:#ececee;"></div>
<div class="a" style="left:1392.5px;top:738px;width:1px;height:30px;background:#ececee;"></div>
<div class="a" style="left:1789.5px;top:738px;width:1px;height:30px;background:#ececee;"></div>
<div class="a" style="left:2057.5px;top:738px;width:1px;height:30px;background:#ececee;"></div>
<div class="a" style="left:2339.5px;top:738px;width:1px;height:30px;background:#ececee;"></div>
<svg style="left:2166.3px;top:746.6px" width="17" height="15.6" viewBox="0 0 15 15"><path d="M1 1.5 H14 L9.4 7.2 H5.6 Z" fill="#b4b5ba"/><rect x="5.8" y="8.4" width="3.4" height="4.6" fill="#b4b5ba"/></svg>
<div class="rowl" style="top:856.5px;"></div>
<div style="position:absolute;left:343.5px;top:804.6px;height:26px;line-height:26px;font-size:18.7px;color:#2f3238;font-weight:400;white-space:nowrap;letter-spacing:0.72px;">com.fasterx...</div>
<div style="position:absolute;left:520.5px;top:809.2px;height:26px;line-height:26px;font-size:18.7px;color:#47528f;font-weight:400;white-space:nowrap;letter-spacing:0.5px;">jackson<span style="display:inline-block;transform:scaleX(1.7);margin:0 2.6px;">-</span>databind</div>
<div style="position:absolute;left:849.5px;top:804.6px;height:26px;line-height:26px;font-size:18.7px;color:#2f3238;font-weight:400;white-space:nowrap;letter-spacing:-0.25px;">2.8.11.3</div>
<div style="position:absolute;left:1045.5px;top:809.2px;height:26px;line-height:26px;font-size:18.7px;color:#2f3238;font-weight:400;white-space:nowrap;letter-spacing:0.1px;">Java</div>
<div style="position:absolute;left:1240.0px;top:809.2px;height:26px;line-height:26px;font-size:18.7px;color:#2f3238;font-weight:400;white-space:nowrap;letter-spacing:0.4px;">Maven</div>
<div class="bdg b1" style="left:1416px;top:807.0px;">11</div>
<div class="bdg b2" style="left:1462px;top:807.0px;">26</div>
<div class="bdg b3" style="left:1508px;top:807.0px;">2</div>
<div class="bdg b0" style="left:1554px;top:807.0px;">0</div>
<div class="bdg b0" style="left:1600px;top:807.0px;">0</div>
<div class="a" style="left:1813px;top:821.6px;width:10px;height:2px;background:#3a3d44;"></div>
<div class="tag" style="left:2080px;top:807.0px;"><span style="display:inline-block;width:62.00px;text-align:justify;text-align-last:justify;text-justify:inter-character;vertical-align:top;">必要修复</span></div>
<div style="position:absolute;left:2362px;top:809.2px;height:26px;line-height:26px;font-size:18.7px;color:#2f3238;font-weight:400;white-space:nowrap;">2</div>
<div class="rowl" style="top:928.1px;"></div>
<div style="position:absolute;left:343.5px;top:876.2px;height:26px;line-height:26px;font-size:18.7px;color:#2f3238;font-weight:400;white-space:nowrap;letter-spacing:0.72px;">io.undertow</div>
<div style="position:absolute;left:520.5px;top:880.8px;height:26px;line-height:26px;font-size:18.7px;color:#47528f;font-weight:400;white-space:nowrap;letter-spacing:0.5px;">undertow<span style="display:inline-block;transform:scaleX(1.7);margin:0 2.6px;">-</span>core</div>
<div style="position:absolute;left:849.5px;top:876.2px;height:26px;line-height:26px;font-size:18.7px;color:#2f3238;font-weight:400;white-space:nowrap;letter-spacing:-0.25px;">1.3.18.Final</div>
<div style="position:absolute;left:1045.5px;top:880.8px;height:26px;line-height:26px;font-size:18.7px;color:#2f3238;font-weight:400;white-space:nowrap;letter-spacing:0.1px;">Java</div>
<div style="position:absolute;left:1240.0px;top:880.8px;height:26px;line-height:26px;font-size:18.7px;color:#2f3238;font-weight:400;white-space:nowrap;letter-spacing:0.4px;">Maven</div>
<div class="bdg b1" style="left:1416px;top:878.6px;">3</div>
<div class="bdg b2" style="left:1462px;top:878.6px;">12</div>
<div class="bdg b3" style="left:1508px;top:878.6px;">11</div>
<div class="bdg b0" style="left:1554px;top:878.6px;">0</div>
<div class="bdg b0" style="left:1600px;top:878.6px;">0</div>
<div class="a" style="left:1813px;top:893.2px;width:10px;height:2px;background:#3a3d44;"></div>
<div class="tag" style="left:2080px;top:878.6px;"><span style="display:inline-block;width:62.00px;text-align:justify;text-align-last:justify;text-justify:inter-character;vertical-align:top;">必要修复</span></div>
<div style="position:absolute;left:2362px;top:880.8px;height:26px;line-height:26px;font-size:18.7px;color:#2f3238;font-weight:400;white-space:nowrap;">2</div>
<div class="rowl" style="top:999.7px;"></div>
<div style="position:absolute;left:343.5px;top:947.8px;height:26px;line-height:26px;font-size:18.7px;color:#2f3238;font-weight:400;white-space:nowrap;letter-spacing:0.72px;">com.thought...</div>
<div style="position:absolute;left:520.5px;top:952.4px;height:26px;line-height:26px;font-size:18.7px;color:#47528f;font-weight:400;white-space:nowrap;letter-spacing:0.5px;">xstream</div>
<div style="position:absolute;left:849.5px;top:947.8px;height:26px;line-height:26px;font-size:18.7px;color:#2f3238;font-weight:400;white-space:nowrap;letter-spacing:-0.25px;">1.4.5</div>
<div style="position:absolute;left:1045.5px;top:952.4px;height:26px;line-height:26px;font-size:18.7px;color:#2f3238;font-weight:400;white-space:nowrap;letter-spacing:0.1px;">Java</div>
<div style="position:absolute;left:1240.0px;top:952.4px;height:26px;line-height:26px;font-size:18.7px;color:#2f3238;font-weight:400;white-space:nowrap;letter-spacing:0.4px;">Maven</div>
<div class="bdg b1" style="left:1416px;top:950.2px;">2</div>
<div class="bdg b2" style="left:1462px;top:950.2px;">22</div>
<div class="bdg b3" style="left:1508px;top:950.2px;">12</div>
<div class="bdg b0" style="left:1554px;top:950.2px;">0</div>
<div class="bdg b0" style="left:1600px;top:950.2px;">0</div>
<div class="a" style="left:1813px;top:964.8px;width:10px;height:2px;background:#3a3d44;"></div>
<div class="tag" style="left:2080px;top:950.2px;"><span style="display:inline-block;width:62.00px;text-align:justify;text-align-last:justify;text-justify:inter-character;vertical-align:top;">必要修复</span></div>
<div style="position:absolute;left:2362px;top:952.4px;height:26px;line-height:26px;font-size:18.7px;color:#2f3238;font-weight:400;white-space:nowrap;">1</div>
<div class="rowl" style="top:1071.3px;"></div>
<div style="position:absolute;left:343.5px;top:1019.4px;height:26px;line-height:26px;font-size:18.7px;color:#2f3238;font-weight:400;white-space:nowrap;letter-spacing:0.72px;">com.thought...</div>
<div style="position:absolute;left:520.5px;top:1024.0px;height:26px;line-height:26px;font-size:18.7px;color:#47528f;font-weight:400;white-space:nowrap;letter-spacing:0.5px;">xstream</div>
<div style="position:absolute;left:849.5px;top:1019.4px;height:26px;line-height:26px;font-size:18.7px;color:#2f3238;font-weight:400;white-space:nowrap;letter-spacing:-0.25px;">1.4.10</div>
<div style="position:absolute;left:1045.5px;top:1024.0px;height:26px;line-height:26px;font-size:18.7px;color:#2f3238;font-weight:400;white-space:nowrap;letter-spacing:0.1px;">Java</div>
<div style="position:absolute;left:1240.0px;top:1024.0px;height:26px;line-height:26px;font-size:18.7px;color:#2f3238;font-weight:400;white-space:nowrap;letter-spacing:0.4px;">Maven</div>
<div class="bdg b1" style="left:1416px;top:1021.8px;">2</div>
<div class="bdg b2" style="left:1462px;top:1021.8px;">20</div>
<div class="bdg b3" style="left:1508px;top:1021.8px;">12</div>
<div class="bdg b0" style="left:1554px;top:1021.8px;">0</div>
<div class="bdg b0" style="left:1600px;top:1021.8px;">0</div>
<div class="a" style="left:1813px;top:1036.4px;width:10px;height:2px;background:#3a3d44;"></div>
<div class="tag" style="left:2080px;top:1021.8px;"><span style="display:inline-block;width:62.00px;text-align:justify;text-align-last:justify;text-justify:inter-character;vertical-align:top;">必要修复</span></div>
<div style="position:absolute;left:2362px;top:1024.0px;height:26px;line-height:26px;font-size:18.7px;color:#2f3238;font-weight:400;white-space:nowrap;">2</div>
<div class="rowl" style="top:1142.9px;"></div>
<div style="position:absolute;left:343.5px;top:1091.0px;height:26px;line-height:26px;font-size:18.7px;color:#2f3238;font-weight:400;white-space:nowrap;letter-spacing:0.72px;">com.h2datab...</div>
<div style="position:absolute;left:520.5px;top:1095.6px;height:26px;line-height:26px;font-size:18.7px;color:#47528f;font-weight:400;white-space:nowrap;letter-spacing:0.5px;">h2</div>
<div style="position:absolute;left:849.5px;top:1091.0px;height:26px;line-height:26px;font-size:18.7px;color:#2f3238;font-weight:400;white-space:nowrap;letter-spacing:-0.25px;">1.4.199</div>
<div style="position:absolute;left:1045.5px;top:1095.6px;height:26px;line-height:26px;font-size:18.7px;color:#2f3238;font-weight:400;white-space:nowrap;letter-spacing:0.1px;">Java</div>
<div style="position:absolute;left:1240.0px;top:1095.6px;height:26px;line-height:26px;font-size:18.7px;color:#2f3238;font-weight:400;white-space:nowrap;letter-spacing:0.4px;">Maven</div>
<div class="bdg b1" style="left:1416px;top:1093.4px;">2</div>
<div class="bdg b2" style="left:1462px;top:1093.4px;">2</div>
<div class="bdg b0" style="left:1508px;top:1093.4px;">0</div>
<div class="bdg b0" style="left:1554px;top:1093.4px;">0</div>
<div class="bdg b0" style="left:1600px;top:1093.4px;">0</div>
<div class="a" style="left:1813px;top:1108.0px;width:10px;height:2px;background:#3a3d44;"></div>
<div class="tag" style="left:2080px;top:1093.4px;"><span style="display:inline-block;width:62.00px;text-align:justify;text-align-last:justify;text-justify:inter-character;vertical-align:top;">必要修复</span></div>
<div style="position:absolute;left:2362px;top:1095.6px;height:26px;line-height:26px;font-size:18.7px;color:#2f3238;font-weight:400;white-space:nowrap;">2</div>
<div class="rowl" style="top:1214.5px;"></div>
<div style="position:absolute;left:343.5px;top:1162.6px;height:26px;line-height:26px;font-size:18.7px;color:#2f3238;font-weight:400;white-space:nowrap;letter-spacing:0.72px;">org.springfra...</div>
<div style="position:absolute;left:520.5px;top:1167.2px;height:26px;line-height:26px;font-size:18.7px;color:#47528f;font-weight:400;white-space:nowrap;letter-spacing:0.5px;">spring<span style="display:inline-block;transform:scaleX(1.7);margin:0 2.6px;">-</span>webmvc</div>
<div style="position:absolute;left:849.5px;top:1162.6px;height:26px;line-height:26px;font-size:18.7px;color:#2f3238;font-weight:400;white-space:nowrap;letter-spacing:-0.25px;">4.2.5.RELEASE</div>
<div style="position:absolute;left:1045.5px;top:1167.2px;height:26px;line-height:26px;font-size:18.7px;color:#2f3238;font-weight:400;white-space:nowrap;letter-spacing:0.1px;">Java</div>
<div style="position:absolute;left:1240.0px;top:1167.2px;height:26px;line-height:26px;font-size:18.7px;color:#2f3238;font-weight:400;white-space:nowrap;letter-spacing:0.4px;">Maven</div>
<div class="bdg b1" style="left:1416px;top:1165.0px;">2</div>
<div class="bdg b2" style="left:1462px;top:1165.0px;">1</div>
<div class="bdg b0" style="left:1508px;top:1165.0px;">0</div>
<div class="bdg b0" style="left:1554px;top:1165.0px;">0</div>
<div class="bdg b0" style="left:1600px;top:1165.0px;">0</div>
<div class="a" style="left:1812.6px;top:1175.0px;width:10px;height:10px;border-radius:5px;background:#8f90be;"></div>
<div style="position:absolute;left:1834px;top:1167.2px;height:26px;line-height:26px;font-size:18.7px;color:#2f3238;font-weight:400;white-space:nowrap;letter-spacing:0.45px;">Apache<span style="display:inline-block;transform:scaleX(1.7);margin:0 2.6px;">-</span>2.0</div>
<div class="tag" style="left:2080px;top:1165.0px;"><span style="display:inline-block;width:62.00px;text-align:justify;text-align-last:justify;text-justify:inter-character;vertical-align:top;">必要修复</span></div>
<div style="position:absolute;left:2362px;top:1167.2px;height:26px;line-height:26px;font-size:18.7px;color:#2f3238;font-weight:400;white-space:nowrap;">2</div>
<div class="rowl" style="top:1286.1px;"></div>
<div style="position:absolute;left:343.5px;top:1234.2px;height:26px;line-height:26px;font-size:18.7px;color:#2f3238;font-weight:400;white-space:nowrap;letter-spacing:0.72px;">org.apache.a...</div>
<div style="position:absolute;left:520.5px;top:1238.8px;height:26px;line-height:26px;font-size:18.7px;color:#47528f;font-weight:400;white-space:nowrap;letter-spacing:0.5px;">activemq<span style="display:inline-block;transform:scaleX(1.7);margin:0 2.6px;">-</span>openwire<span style="display:inline-block;transform:scaleX(1.7);margin:0 2.6px;">-</span>legacy</div>
<div style="position:absolute;left:849.5px;top:1234.2px;height:26px;line-height:26px;font-size:18.7px;color:#2f3238;font-weight:400;white-space:nowrap;letter-spacing:-0.25px;">5.15.9</div>
<div style="position:absolute;left:1045.5px;top:1238.8px;height:26px;line-height:26px;font-size:18.7px;color:#2f3238;font-weight:400;white-space:nowrap;letter-spacing:0.1px;">Java</div>
<div style="position:absolute;left:1240.0px;top:1238.8px;height:26px;line-height:26px;font-size:18.7px;color:#2f3238;font-weight:400;white-space:nowrap;letter-spacing:0.4px;">Maven</div>
<div class="bdg b1" style="left:1416px;top:1236.6px;">2</div>
<div class="bdg b0" style="left:1462px;top:1236.6px;">0</div>
<div class="bdg b0" style="left:1508px;top:1236.6px;">0</div>
<div class="bdg b0" style="left:1554px;top:1236.6px;">0</div>
<div class="bdg b0" style="left:1600px;top:1236.6px;">0</div>
<div class="a" style="left:1812.6px;top:1246.6px;width:10px;height:10px;border-radius:5px;background:#8f90be;"></div>
<div style="position:absolute;left:1834px;top:1238.8px;height:26px;line-height:26px;font-size:18.7px;color:#2f3238;font-weight:400;white-space:nowrap;letter-spacing:0.45px;">Apache<span style="display:inline-block;transform:scaleX(1.7);margin:0 2.6px;">-</span>2.0</div>
<div class="tag" style="left:2080px;top:1236.6px;"><span style="display:inline-block;width:62.00px;text-align:justify;text-align-last:justify;text-justify:inter-character;vertical-align:top;">必要修复</span></div>
<div style="position:absolute;left:2362px;top:1238.8px;height:26px;line-height:26px;font-size:18.7px;color:#2f3238;font-weight:400;white-space:nowrap;">2</div>
<div class="rowl" style="top:1357.7px;"></div>
<div style="position:absolute;left:343.5px;top:1305.8px;height:26px;line-height:26px;font-size:18.7px;color:#2f3238;font-weight:400;white-space:nowrap;letter-spacing:0.72px;">org.apache.t...</div>
<div style="position:absolute;left:520.5px;top:1310.4px;height:26px;line-height:26px;font-size:18.7px;color:#47528f;font-weight:400;white-space:nowrap;letter-spacing:0.5px;">tomcat<span style="display:inline-block;transform:scaleX(1.7);margin:0 2.6px;">-</span>embed<span style="display:inline-block;transform:scaleX(1.7);margin:0 2.6px;">-</span>core</div>
<div style="position:absolute;left:849.5px;top:1305.8px;height:26px;line-height:26px;font-size:18.7px;color:#2f3238;font-weight:400;white-space:nowrap;letter-spacing:-0.25px;">9.0.19</div>
<div style="position:absolute;left:1045.5px;top:1310.4px;height:26px;line-height:26px;font-size:18.7px;color:#2f3238;font-weight:400;white-space:nowrap;letter-spacing:0.1px;">Java</div>
<div style="position:absolute;left:1240.0px;top:1310.4px;height:26px;line-height:26px;font-size:18.7px;color:#2f3238;font-weight:400;white-space:nowrap;letter-spacing:0.4px;">Maven</div>
<div class="bdg b1" style="left:1416px;top:1308.2px;">1</div>
<div class="bdg b2" style="left:1462px;top:1308.2px;">5</div>
<div class="bdg b3" style="left:1508px;top:1308.2px;">1</div>
<div class="bdg b0" style="left:1554px;top:1308.2px;">0</div>
<div class="bdg b0" style="left:1600px;top:1308.2px;">0</div>
<div class="a" style="left:1812.6px;top:1318.2px;width:10px;height:10px;border-radius:5px;background:#8f90be;"></div>
<div style="position:absolute;left:1834px;top:1310.4px;height:26px;line-height:26px;font-size:18.7px;color:#2f3238;font-weight:400;white-space:nowrap;letter-spacing:0.45px;">Apache<span style="display:inline-block;transform:scaleX(1.7);margin:0 2.6px;">-</span>2.0</div>
<div class="tag" style="left:2080px;top:1308.2px;"><span style="display:inline-block;width:62.00px;text-align:justify;text-align-last:justify;text-justify:inter-character;vertical-align:top;">必要修复</span></div>
<div style="position:absolute;left:2362px;top:1310.4px;height:26px;line-height:26px;font-size:18.7px;color:#2f3238;font-weight:400;white-space:nowrap;">2</div>
<div class="rowl" style="top:1429.3px;"></div>
<div style="position:absolute;left:343.5px;top:1377.4px;height:26px;line-height:26px;font-size:18.7px;color:#2f3238;font-weight:400;white-space:nowrap;letter-spacing:0.72px;">org.jboss.netty</div>
<div style="position:absolute;left:520.5px;top:1382.0px;height:26px;line-height:26px;font-size:18.7px;color:#47528f;font-weight:400;white-space:nowrap;letter-spacing:0.5px;">netty</div>
<div style="position:absolute;left:849.5px;top:1377.4px;height:26px;line-height:26px;font-size:18.7px;color:#2f3238;font-weight:400;white-space:nowrap;letter-spacing:-0.25px;">3.2.9.Final</div>
<div style="position:absolute;left:1045.5px;top:1382.0px;height:26px;line-height:26px;font-size:18.7px;color:#2f3238;font-weight:400;white-space:nowrap;letter-spacing:0.1px;">Java</div>
<div style="position:absolute;left:1240.0px;top:1382.0px;height:26px;line-height:26px;font-size:18.7px;color:#2f3238;font-weight:400;white-space:nowrap;letter-spacing:0.4px;">Maven</div>
<div class="bdg b1" style="left:1416px;top:1379.8px;">1</div>
<div class="bdg b2" style="left:1462px;top:1379.8px;">4</div>
<div class="bdg b3" style="left:1508px;top:1379.8px;">3</div>
<div class="bdg b0" style="left:1554px;top:1379.8px;">0</div>
<div class="bdg b0" style="left:1600px;top:1379.8px;">0</div>
<div class="a" style="left:1812.6px;top:1389.8px;width:10px;height:10px;border-radius:5px;background:#8f90be;"></div>
<div style="position:absolute;left:1834px;top:1382.0px;height:26px;line-height:26px;font-size:18.7px;color:#2f3238;font-weight:400;white-space:nowrap;letter-spacing:0.45px;">Apache<span style="display:inline-block;transform:scaleX(1.7);margin:0 2.6px;">-</span>2.0</div>
<div class="tag" style="left:2080px;top:1379.8px;"><span style="display:inline-block;width:62.00px;text-align:justify;text-align-last:justify;text-justify:inter-character;vertical-align:top;">必要修复</span></div>
<div style="position:absolute;left:2362px;top:1382.0px;height:26px;line-height:26px;font-size:18.7px;color:#2f3238;font-weight:400;white-space:nowrap;">2</div>
<div class="a" style="left:2584px;top:199px;width:6px;height:1081px;border-radius:3px;background:#c3c6d2;"></div>
<div class="a" style="left:2589px;top:60px;width:1px;height:51px;background:#1d1273;"></div>
<div class="a" style="left:2589px;top:111px;width:1px;height:1339px;background:#5a5d6c;"></div>
<div class="a" style="left:0;top:1448.7px;width:2590px;height:1.3px;background:#555a68;"></div>
</body></html>
